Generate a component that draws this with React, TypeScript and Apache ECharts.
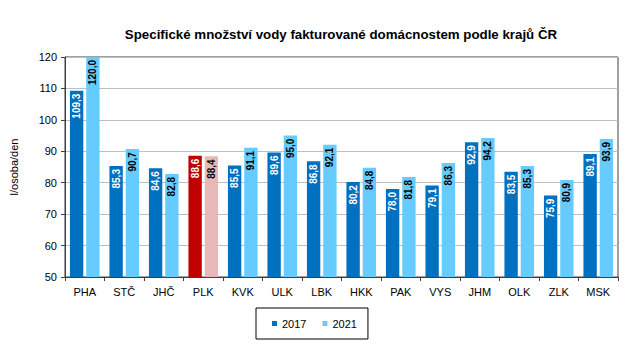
import React, { useEffect, useRef } from "react";
import * as echarts from "echarts";

const title = "Specifické množství vody fakturované domácnostem podle krajů ČR";
const yAxisName = "l/osoba/den";
const categories = ["PHA", "STČ", "JHČ", "PLK", "KVK", "ULK", "LBK", "HKK", "PAK", "VYS", "JHM", "OLK", "ZLK", "MSK"];
const values2017 = [109.3, 85.3, 84.6, 88.6, 85.5, 89.6, 86.8, 80.2, 78.0, 79.1, 92.9, 83.5, 75.9, 89.1];
const values2021 = [120.0, 90.7, 82.8, 88.4, 91.1, 95.0, 92.1, 84.8, 81.8, 86.3, 94.2, 85.3, 80.9, 93.9];
const seriesNames = ["2017", "2021"];
const highlightCategory = "PLK";

const FONT = "Liberation Sans, Arial, sans-serif";
const C2017 = "#0070C0";
const C2021 = "#66CCFF";
const H2017 = "#C00000";
const H2021 = "#E6B9B8";

const fmt = (p: any) => Number(p.value).toFixed(1).replace(".", ",");

export default function App() {
  const ref = useRef<HTMLDivElement>(null);
  useEffect(() => {
    if (!ref.current) return;
    const chart = echarts.init(ref.current, undefined, { renderer: "svg" });
    const mk = (vals: number[], base: string, hi: string) =>
      vals.map((v, i) => ({
        value: v,
        itemStyle: { color: categories[i] === highlightCategory ? hi : base },
      }));
    const labelBase = {
      show: true,
      position: "insideTop",
      rotate: 90,
      align: "right",
      verticalAlign: "middle",
      distance: 3,
      formatter: fmt,
      fontFamily: FONT,
      fontSize: 10,
      fontWeight: "bold",
    };
    chart.setOption({
      animation: false,
      backgroundColor: "#ffffff",
      title: {
        text: title,
        left: 336,
        textAlign: "center",
        top: 23,
        textStyle: { fontFamily: FONT, fontSize: 13.3, fontWeight: "bold", color: "#000" },
      },
      grid: { left: 61, right: 21, top: 57, bottom: 82, show: true, borderColor: "#404040", borderWidth: 1 },
      legend: {
        orient: "horizontal",
        left: 256,
        top: 308,
        padding: [10, 11, 10, 16],
        borderColor: "#000",
        borderWidth: 1,
        itemWidth: 5,
        itemHeight: 5,
        itemGap: 16,
        icon: "rect",
        textStyle: { fontFamily: FONT, fontSize: 11, color: "#000" },
        data: seriesNames,
      },
      xAxis: {
        type: "category",
        data: categories,
        axisLine: { lineStyle: { color: "#404040" } },
        axisTick: { show: true, length: 4, alignWithLabel: false, lineStyle: { color: "#404040" } },
        axisLabel: { fontFamily: FONT, fontSize: 11, color: "#000", margin: 9 },
      },
      yAxis: {
        type: "value",
        min: 50,
        max: 120,
        interval: 10,
        name: yAxisName,
        nameLocation: "middle",
        nameGap: 46,
        nameTextStyle: { fontFamily: FONT, fontSize: 11, color: "#000" },
        axisLine: { show: true, lineStyle: { color: "#404040" } },
        axisTick: { show: true, length: 4, lineStyle: { color: "#404040" } },
        axisLabel: { fontFamily: FONT, fontSize: 11, color: "#000", margin: 8 },
        splitLine: { lineStyle: { color: "#BFBFBF" } },
      },
      series: [
        {
          name: seriesNames[0],
          type: "bar",
          data: mk(values2017, C2017, H2017),
          itemStyle: { color: C2017 },
          barGap: "22%",
          barCategoryGap: "25%",
          label: { ...labelBase, color: "#fff" },
        },
        {
          name: seriesNames[1],
          type: "bar",
          data: mk(values2021, C2021, H2021),
          itemStyle: { color: C2021 },
          barGap: "22%",
          barCategoryGap: "25%",
          label: { ...labelBase, color: "#000" },
        },
      ],
    });
    return () => chart.dispose();
  }, []);
  return <div ref={ref} style={{ position: "fixed", left: 0, top: 0, width: 639, height: 359 }} />;
}
